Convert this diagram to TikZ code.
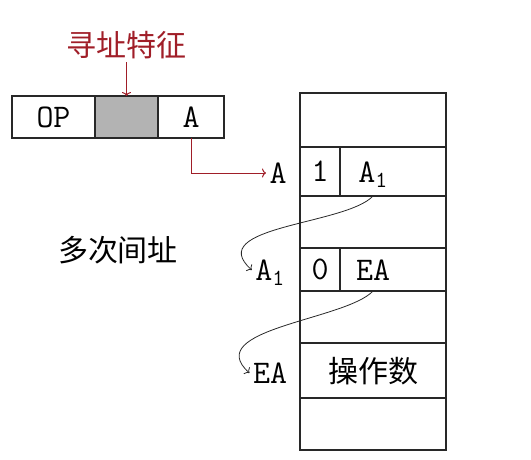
\documentclass[tikz,border=0pt]{standalone}
\usepackage{fontspec}
\newfontfamily\cjk{Noto Sans CJK SC}
\usetikzlibrary{arrows.meta,positioning}
\definecolor{ink}{RGB}{40,40,40}
\definecolor{addr}{RGB}{160,30,40}
\definecolor{shade}{RGB}{179,179,179}
\tikzset{
  cell/.style={draw=ink,line width=1.2pt,inner sep=0pt,outer sep=0pt,
    font=\ttfamily\fontsize{33}{37}\selectfont,text height=20pt,text depth=0pt},
  word/.style={font=\ttfamily\fontsize{33}{37}\selectfont,text height=20pt,text depth=0pt},
  hanzi/.style={font=\cjk\fontsize{30}{34}\selectfont},
  ptr/.style={-{To[length=4pt,width=9pt]},addr,line width=1pt},
  hop/.style={-{To[length=4pt,width=9pt]},ink,line width=0.8pt},
}
\newcommand{\sub}[1]{$_{\mathtt{#1}}$}

\begin{document}
\begin{tikzpicture}[x=1pt,y=-1pt]
  \useasboundingbox (0,0) rectangle (531,459);
  % instruction word
  \node[cell,minimum width=83,minimum height=42] (op) at (53.5,117) {OP};
  \node[cell,fill=shade,minimum width=63,minimum height=42] (mode) at (126.5,117) {};
  \node[cell,minimum width=66,minimum height=42] (instA) at (191,117) {A};
  \node[hanzi,text=addr] (feat) at (126.5,45) {寻址特征};
  \draw[ptr] (feat.south) -- (mode.north);

  % memory
  \node[cell,minimum width=146,minimum height=54] (m0) at (373,120) {};
  \node[cell,minimum width=146,minimum height=49] (rowA) at (373,171.5) {};
  \node[cell,minimum width=146,minimum height=52] (m2) at (373,222) {};
  \node[cell,minimum width=146,minimum height=43] (rowB) at (373,269.5) {};
  \node[cell,minimum width=146,minimum height=52] (m4) at (373,317) {};
  \node[cell,minimum width=146,minimum height=55] (rowOp) at (373,370.5) {};
  \node[hanzi] (opnd) at (373,371) {操作数};
  \node[cell,minimum width=146,minimum height=52] (m6) at (373,424) {};
  \node[cell,minimum width=40,minimum height=49] (one) at (320,171.5) {1};
  \node[cell,minimum width=40,minimum height=43] (zero) at (320,269.5) {0};
  \node[word] (valA1) at (373,172) {A\sub{1}};
  \node[word] (valEA) at (373,270) {EA};

  % addresses
  \node[word] (lblA) at (278,173) {A};
  \node[word] (lblA1) at (270,270) {A\sub{1}};
  \node[word] (lblEA) at (270,373) {EA};
  \node[hanzi] (multi) at (118,250) {多次间址};

  \draw[ptr] (instA.south) |- (lblA.west);
  \draw[hop] (valA1 |- rowA.south) .. controls +(-27,29) and +(-49,-44) .. (lblA1.west);
  \draw[hop] (valEA |- rowB.south) .. controls +(-27,29) and +(-49,-44) .. (lblEA.west);
\end{tikzpicture}
\end{document}
